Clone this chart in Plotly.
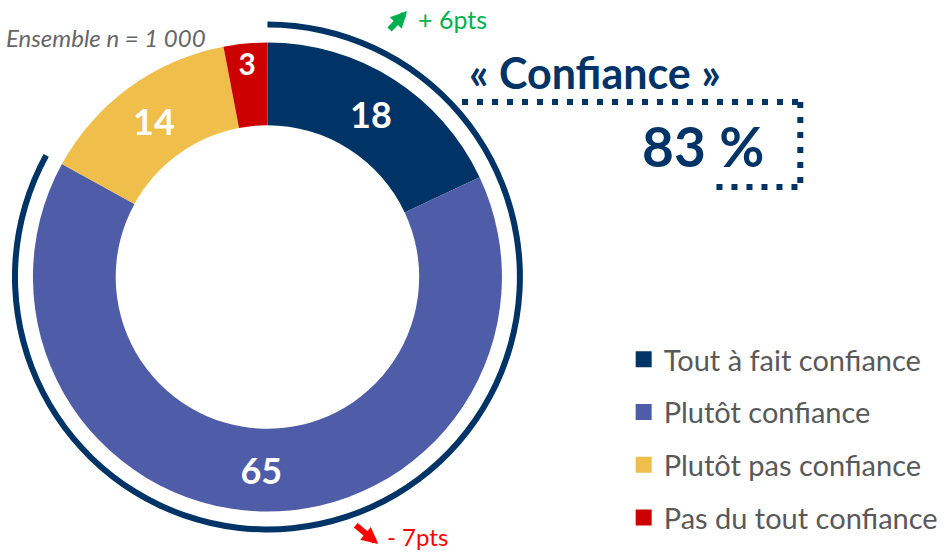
import plotly.graph_objects as go

# data
categories = ['Tout à fait confiance', 'Plutôt confiance', 'Plutôt pas confiance', 'Pas du tout confiance']
values = [18, 65, 14, 3]
colors = ['#003366', '#4F5DA8', '#F0BE4A', '#CC0000']
evolutions = ['+ 6pts', '- 7pts']
sample_note = 'Ensemble n = 1 000'
headline = '« Confiance »'

NAVY = '#003366'
FONT = 'Lato'
W, H = 944, 552

confidence = sum(values[:2])

fig = go.Figure()

# main donut
fig.add_trace(
    go.Pie(
        values=values,
        labels=categories,
        marker=dict(colors=colors, line=dict(width=0)),
        hole=0.647,
        sort=False,
        direction='clockwise',
        rotation=0,
        textinfo='value',
        textposition='inside',
        insidetextorientation='horizontal',
        textfont=dict(family=FONT, size=36, color='white', weight='bold'),
        domain=dict(x=[33 / W, 503 / W], y=[40 / H, 510 / H]),
        showlegend=False,
        hoverinfo='skip',
    )
)

# thin outer ring showing the "confiance" total
fig.add_trace(
    go.Pie(
        values=[confidence, sum(values) - confidence],
        labels=['conf', 'rest'],
        marker=dict(colors=[NAVY, 'rgba(0,0,0,0)'], line=dict(width=0)),
        hole=250 / 256,
        sort=False,
        direction='clockwise',
        rotation=0,
        textinfo='none',
        domain=dict(x=[12 / W, 524 / W], y=[19 / H, 531 / H]),
        showlegend=False,
        hoverinfo='skip',
    )
)

# legend entries
for cat, col in zip(categories, colors):
    fig.add_trace(
        go.Scatter(
            x=[None], y=[None],
            mode='markers',
            name=cat,
            legendgroup=cat,
            marker=dict(symbol='square', size=16, color=col),
        )
    )

# dotted frame around the total
dot = dict(color=NAVY, width=6, dash='6px,9px')
fig.add_shape(type='line', x0=463, y0=102, x1=803, y1=102, line=dot)
fig.add_shape(type='line', x0=802, y0=102, x1=802, y1=188, line=dot)
fig.add_shape(type='line', x0=718, y0=187, x1=803, y1=187, line=dot)

annotations = [
    dict(x=4, y=37, text=sample_note, xanchor='left',
         font=dict(family=FONT, size=24, color='#666666', style='italic')),
    dict(x=468, y=72, text=headline, xanchor='left',
         font=dict(family=FONT, size=43, color=NAVY, weight='bold')),
    dict(x=768, y=146, text=f'{confidence} %', xanchor='right',
         font=dict(family=FONT, size=55, color=NAVY, weight='bold')),
    dict(x=417, y=19, text=evolutions[0], xanchor='left',
         font=dict(family=FONT, size=25, color='#00B050')),
    dict(x=386, y=536, text=evolutions[1], xanchor='left',
         font=dict(family=FONT, size=24, color='#FF0000')),
]
for a in annotations:
    a.update(xref='x', yref='y', showarrow=False, yanchor='middle')

# trend arrows
arrows = [
    dict(x=408, y=11, ax=389, ay=31, arrowcolor='#00B050'),
    dict(x=379, y=544, ax=355, ay=524, arrowcolor='#FF0000'),
]
for a in arrows:
    a.update(xref='x', yref='y', axref='x', ayref='y', text='', showarrow=True,
             arrowhead=2, arrowsize=0.55, arrowwidth=6, standoff=0)

fig.update_layout(
    template='none',
    width=W,
    height=H,
    margin=dict(l=0, r=0, t=0, b=0),
    paper_bgcolor='white',
    plot_bgcolor='white',
    xaxis=dict(range=[0, W], visible=False, fixedrange=True),
    yaxis=dict(range=[H, 0], visible=False, fixedrange=True),
    annotations=annotations + arrows,
    showlegend=True,
    legend=dict(
        x=625 / W, y=1 - 334 / H, xanchor='left', yanchor='top',
        font=dict(family=FONT, size=29, color='#595959'),
        tracegroupgap=12,
        bgcolor='rgba(0,0,0,0)',
    ),
)

fig.write_html('out.html', config={'displayModeBar': False},
               post_script="document.body.style.margin='0';")
